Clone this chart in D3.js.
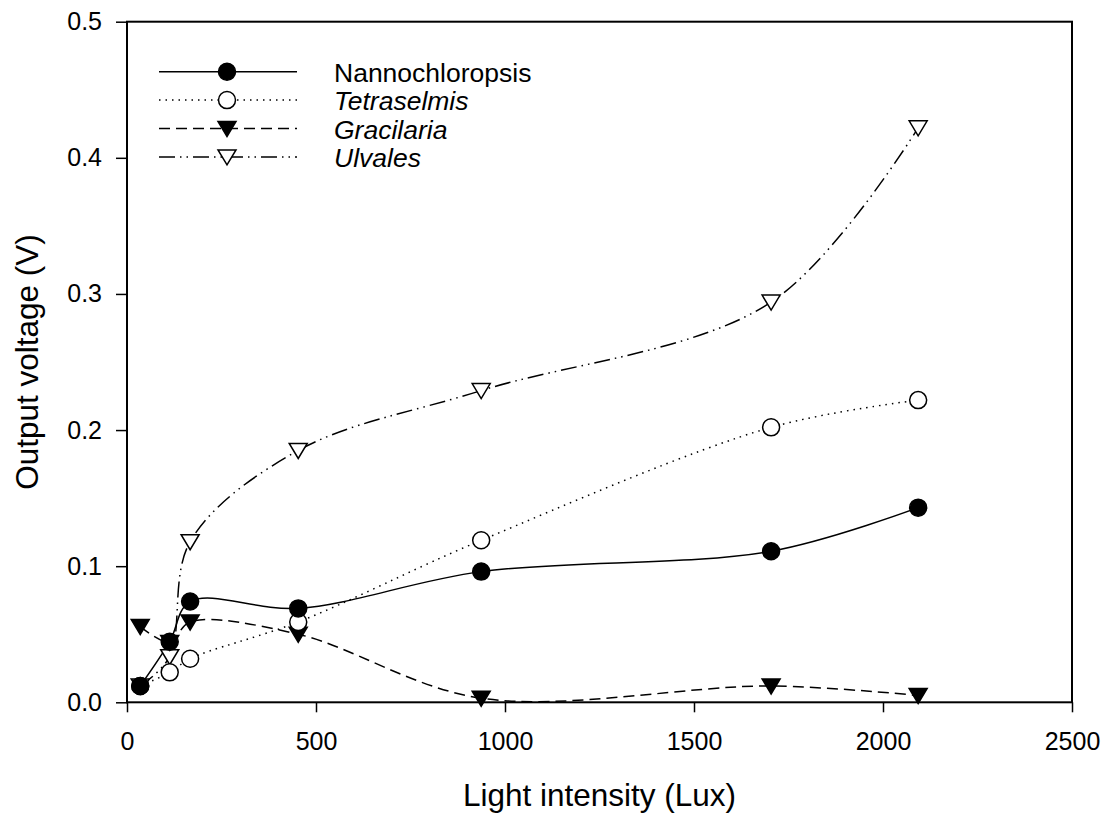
<!DOCTYPE html>
<html>
<head>
<meta charset="utf-8">
<script src="https://cdn.jsdelivr.net/npm/d3@7"></script>
<style>
  body { margin: 0; background: #fff; }
  text { font-family: "Liberation Sans", Arial, sans-serif; }
</style>
</head>
<body>
<svg id="chart" width="1104" height="814"></svg>
<script>
// light intensity (Lux)
var lux = [35, 113, 167, 453, 937, 1704, 2093];

var nanno = [0.012, 0.0445, 0.074, 0.069, 0.096, 0.111, 0.143];
var tetra = [0.012, 0.022, 0.032, 0.059, 0.119, 0.202, 0.222];
var graci = [0.0556, 0.044, 0.059, 0.050, 0.003, 0.012, 0.005];
var ulva  = [0.012, 0.0335, 0.118, 0.185, 0.229, 0.294, 0.422];

var seriesNames = ['Nannochloropsis', 'Tetraselmis', 'Gracilaria', 'Ulvales'];
var xTicks = [0, 500, 1000, 1500, 2000, 2500];
var yTicks = [0.0, 0.1, 0.2, 0.3, 0.4, 0.5];

var margin = {left: 127, top: 21.7, right: 32, bottom: 111.7};
var width = 1104 - margin.left - margin.right;
var height = 814 - margin.top - margin.bottom;

var svg = d3.select('#chart');
var g = svg.append('g').attr('transform', 'translate(' + margin.left + ',' + margin.top + ')');

var x = d3.scaleLinear().domain([0, 2500]).range([0, width]);
var y = d3.scaleLinear().domain([0, 0.5]).range([height, 0]);

var series = [
    {name: seriesNames[0], vals: nanno, dash: null, marker: 'circle', fill: 'black', italic: false},
    {name: seriesNames[1], vals: tetra, dash: '1.5,5', marker: 'circle', fill: 'white', italic: true},
    {name: seriesNames[2], vals: graci, dash: '11,6', marker: 'tri', fill: 'black', italic: true},
    {name: seriesNames[3], vals: ulva, dash: '16,5,1.5,5,1.5,5', marker: 'tri', fill: 'white', italic: true}
];

var line = d3.line()
             .x(function(d){return x(d[0]);})
             .y(function(d){return y(d[1]);})
             .curve(d3.curveCatmullRom.alpha(0.5));

function drawMarker(sel, s){
    if (s.marker == 'circle'){
        sel.append('circle')
           .attr('r', 8.5)
           .attr('fill', s.fill)
           .attr('stroke', 'black')
           .attr('stroke-width', 1.5);
    }
    else {
        sel.append('path')
           .attr('d', 'M-9,-7L9,-7L0,8Z')
           .attr('fill', s.fill)
           .attr('stroke', 'black')
           .attr('stroke-width', 1.5);
    }
}

// lines
series.forEach(function(s){
    var pts = lux.map(function(v, i){return [v, s.vals[i]];});
    g.append('path')
     .datum(pts)
     .attr('d', line)
     .attr('fill', 'none')
     .attr('stroke', 'black')
     .attr('stroke-width', 1.5)
     .attr('stroke-dasharray', s.dash);
});

// markers (drawn in reverse so Nannochloropsis is on top)
series.slice().reverse().forEach(function(s){
    var pts = lux.map(function(v, i){return [v, s.vals[i]];});
    g.selectAll(null)
     .data(pts)
     .enter()
     .append('g')
     .attr('transform', function(d){return 'translate(' + x(d[0]) + ',' + y(d[1]) + ')';})
     .each(function(){drawMarker(d3.select(this), s);});
});

// frame
g.append('rect')
 .attr('width', width)
 .attr('height', height)
 .attr('fill', 'none')
 .attr('stroke', 'black')
 .attr('stroke-width', 2);

// axes
var xAxis = g.append('g')
             .attr('transform', 'translate(0,' + height + ')')
             .call(d3.axisBottom(x).tickValues(xTicks).tickFormat(d3.format('d')).tickSize(10).tickPadding(20));
var yAxis = g.append('g')
             .call(d3.axisLeft(y).tickValues(yTicks).tickFormat(d3.format('.1f')).tickSize(11).tickPadding(14));

[xAxis, yAxis].forEach(function(a){
    a.select('.domain').remove();
    a.selectAll('line').attr('stroke', 'black').attr('stroke-width', 1.5);
    a.selectAll('text').attr('font-size', 25).attr('fill', 'black')
     .style('font-family', '"Liberation Sans", Arial, sans-serif');
});

// axis titles
svg.append('text')
   .attr('x', margin.left + width / 2)
   .attr('y', 806)
   .attr('text-anchor', 'middle')
   .attr('font-size', 31.5)
   .text('Light intensity (Lux)');

svg.append('text')
   .attr('transform', 'translate(38,' + (margin.top + height / 2) + ') rotate(-90)')
   .attr('text-anchor', 'middle')
   .attr('font-size', 31.5)
   .text('Output voltage (V)');

// legend
var legend = svg.selectAll('g.legend')
                .data(series)
                .enter()
                .append('g')
                .attr('class', 'legend')
                .attr('transform', function(d, i){return 'translate(159,' + (71.7 + i * 28.4) + ')';});

legend.append('line')
      .attr('x1', 0)
      .attr('x2', 138)
      .attr('stroke', 'black')
      .attr('stroke-width', 1.5)
      .attr('stroke-dasharray', function(d){return d.dash;});

legend.append('g')
      .attr('transform', 'translate(68,0)')
      .each(function(d){drawMarker(d3.select(this), d);});

legend.append('text')
      .attr('x', 175)
      .attr('y', 10)
      .attr('font-size', 26.5)
      .style('font-style', function(d){return d.italic ? 'italic' : 'normal';})
      .text(function(d){return d.name;});
</script>
</body>
</html>
